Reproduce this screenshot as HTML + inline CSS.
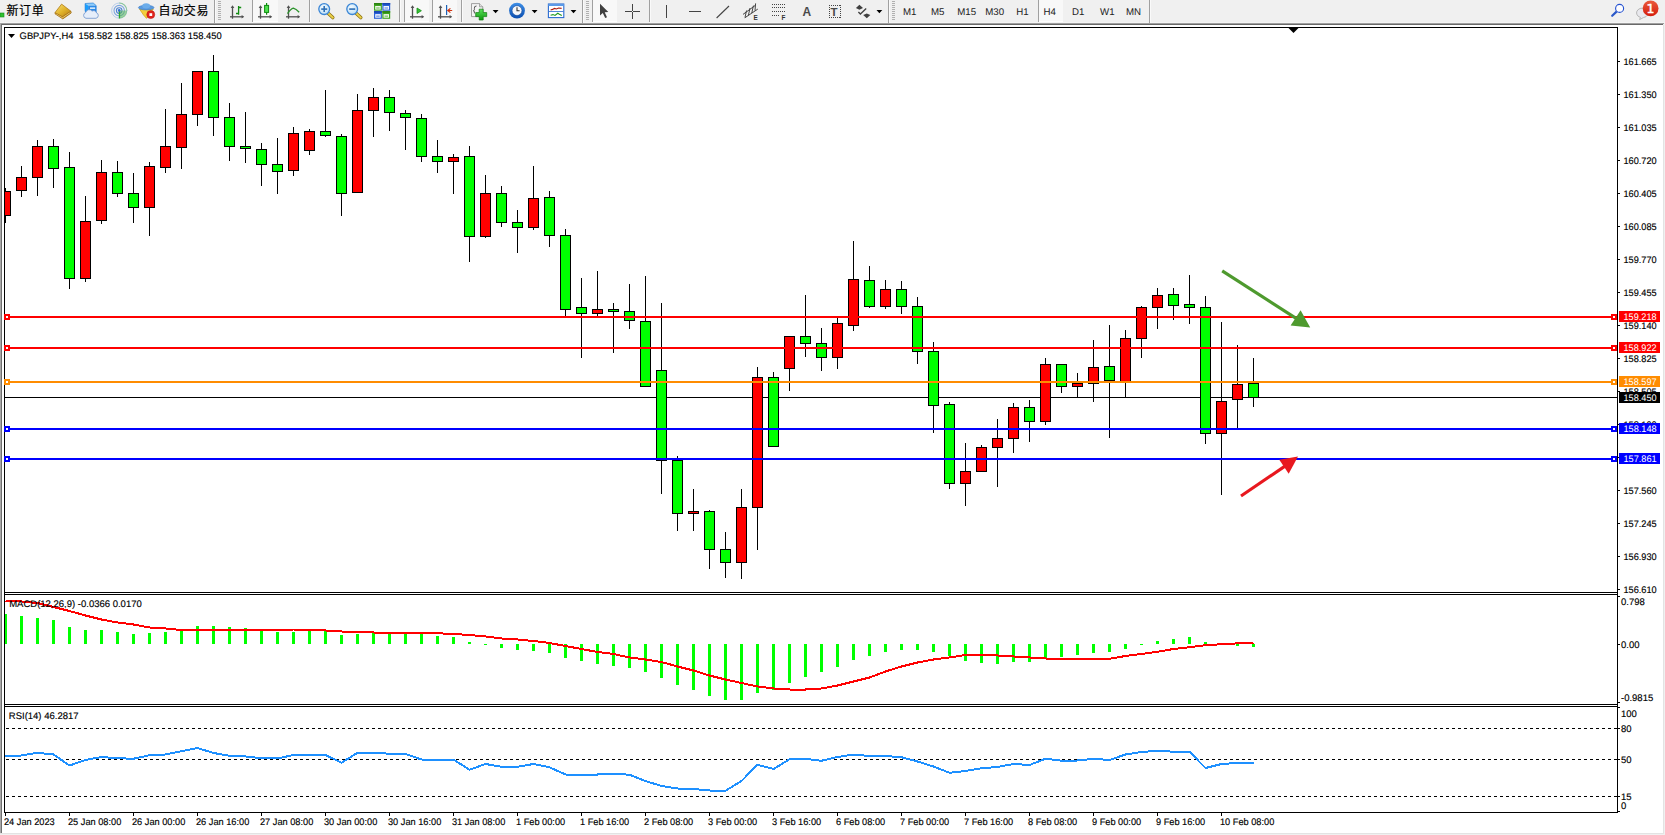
<!DOCTYPE html><html><head><meta charset="utf-8"><title>GBPJPY-,H4</title><style>
html,body{margin:0;padding:0;background:#f0f0f0;}body{width:1665px;height:835px;overflow:hidden;}
svg{display:block;font-family:"Liberation Sans","Noto Sans CJK SC",sans-serif;}
.t{font-size:9.5px;fill:#000;text-rendering:geometricPrecision;stroke:#000;stroke-width:0.15px;}.w{font-size:9.5px;fill:#fff;text-rendering:geometricPrecision;}.tf{font-size:9.7px;fill:#222;text-rendering:geometricPrecision;}.cn{font-size:12px;letter-spacing:0.6px;fill:#000;stroke:#000;stroke-width:0.2px;}
.ce{shape-rendering:crispEdges;}
</style></head><body>
<svg width="1665" height="835" viewBox="0 0 1665 835">
<rect x="0" y="0" width="1665" height="835" fill="#f0f0f0"/>
<g class="ce">
<rect x="0" y="23" width="1664" height="1" fill="#a0a0a0"/>
<rect x="0" y="24" width="1663" height="1" fill="#696969"/>
<rect x="2" y="25" width="1661" height="808" fill="#ffffff"/>
<rect x="0" y="23" width="1" height="811" fill="#a8a8a8"/>
<rect x="1" y="24" width="1" height="809" fill="#707070"/>
<rect x="1663" y="25" width="1" height="809" fill="#e3e3e3"/>
<rect x="0" y="833" width="1664" height="1" fill="#e3e3e3"/>
<rect x="4" y="27" width="1614" height="1" fill="#000"/>
<rect x="4" y="27" width="1" height="786" fill="#000"/>
<rect x="1617" y="27" width="1" height="786" fill="#000"/>
<rect x="4" y="592" width="1614" height="1" fill="#000"/>
<rect x="4" y="594" width="1614" height="1" fill="#000"/>
<rect x="4" y="704" width="1614" height="1" fill="#000"/>
<rect x="4" y="706" width="1614" height="1" fill="#000"/>
<rect x="4" y="812" width="1614" height="1" fill="#000"/>
<rect x="5" y="593" width="1612" height="1" fill="#fff"/>
<rect x="5" y="705" width="1612" height="1" fill="#fff"/>
<rect x="5" y="397" width="1612" height="1" fill="#000"/>
</g>
<g class="ce" id="candles">
<rect x="5" y="188" width="1" height="35" fill="#000"/>
<rect x="5" y="191" width="6" height="25" fill="#000"/>
<rect x="5" y="192" width="5" height="23" fill="#ff0000"/>
<rect x="21" y="166" width="1" height="31" fill="#000"/>
<rect x="16" y="177" width="11" height="14" fill="#000"/>
<rect x="17" y="178" width="9" height="12" fill="#ff0000"/>
<rect x="37" y="140" width="1" height="56" fill="#000"/>
<rect x="32" y="146" width="11" height="32" fill="#000"/>
<rect x="33" y="147" width="9" height="30" fill="#ff0000"/>
<rect x="53" y="139" width="1" height="49" fill="#000"/>
<rect x="48" y="146" width="11" height="23" fill="#000"/>
<rect x="49" y="147" width="9" height="21" fill="#00ff00"/>
<rect x="69" y="152" width="1" height="137" fill="#000"/>
<rect x="64" y="167" width="11" height="112" fill="#000"/>
<rect x="65" y="168" width="9" height="110" fill="#00ff00"/>
<rect x="85" y="196" width="1" height="86" fill="#000"/>
<rect x="80" y="221" width="11" height="58" fill="#000"/>
<rect x="81" y="222" width="9" height="56" fill="#ff0000"/>
<rect x="101" y="160" width="1" height="64" fill="#000"/>
<rect x="96" y="172" width="11" height="49" fill="#000"/>
<rect x="97" y="173" width="9" height="47" fill="#ff0000"/>
<rect x="117" y="161" width="1" height="36" fill="#000"/>
<rect x="112" y="172" width="11" height="22" fill="#000"/>
<rect x="113" y="173" width="9" height="20" fill="#00ff00"/>
<rect x="133" y="173" width="1" height="50" fill="#000"/>
<rect x="128" y="193" width="11" height="15" fill="#000"/>
<rect x="129" y="194" width="9" height="13" fill="#00ff00"/>
<rect x="149" y="162" width="1" height="74" fill="#000"/>
<rect x="144" y="166" width="11" height="42" fill="#000"/>
<rect x="145" y="167" width="9" height="40" fill="#ff0000"/>
<rect x="165" y="109" width="1" height="64" fill="#000"/>
<rect x="160" y="146" width="11" height="22" fill="#000"/>
<rect x="161" y="147" width="9" height="20" fill="#ff0000"/>
<rect x="181" y="83" width="1" height="86" fill="#000"/>
<rect x="176" y="114" width="11" height="34" fill="#000"/>
<rect x="177" y="115" width="9" height="32" fill="#ff0000"/>
<rect x="197" y="71" width="1" height="55" fill="#000"/>
<rect x="192" y="71" width="11" height="44" fill="#000"/>
<rect x="193" y="72" width="9" height="42" fill="#ff0000"/>
<rect x="213" y="55" width="1" height="81" fill="#000"/>
<rect x="208" y="71" width="11" height="47" fill="#000"/>
<rect x="209" y="72" width="9" height="45" fill="#00ff00"/>
<rect x="229" y="103" width="1" height="58" fill="#000"/>
<rect x="224" y="117" width="11" height="30" fill="#000"/>
<rect x="225" y="118" width="9" height="28" fill="#00ff00"/>
<rect x="245" y="112" width="1" height="51" fill="#000"/>
<rect x="240" y="146" width="11" height="3" fill="#000"/>
<rect x="241" y="147" width="9" height="1" fill="#00ff00"/>
<rect x="261" y="143" width="1" height="43" fill="#000"/>
<rect x="256" y="149" width="11" height="16" fill="#000"/>
<rect x="257" y="150" width="9" height="14" fill="#00ff00"/>
<rect x="277" y="138" width="1" height="56" fill="#000"/>
<rect x="272" y="164" width="11" height="8" fill="#000"/>
<rect x="273" y="165" width="9" height="6" fill="#00ff00"/>
<rect x="293" y="127" width="1" height="49" fill="#000"/>
<rect x="288" y="133" width="11" height="38" fill="#000"/>
<rect x="289" y="134" width="9" height="36" fill="#ff0000"/>
<rect x="309" y="129" width="1" height="26" fill="#000"/>
<rect x="304" y="131" width="11" height="20" fill="#000"/>
<rect x="305" y="132" width="9" height="18" fill="#ff0000"/>
<rect x="325" y="90" width="1" height="47" fill="#000"/>
<rect x="320" y="131" width="11" height="5" fill="#000"/>
<rect x="321" y="132" width="9" height="3" fill="#00ff00"/>
<rect x="341" y="134" width="1" height="82" fill="#000"/>
<rect x="336" y="136" width="11" height="58" fill="#000"/>
<rect x="337" y="137" width="9" height="56" fill="#00ff00"/>
<rect x="357" y="94" width="1" height="99" fill="#000"/>
<rect x="352" y="110" width="11" height="83" fill="#000"/>
<rect x="353" y="111" width="9" height="81" fill="#ff0000"/>
<rect x="373" y="88" width="1" height="49" fill="#000"/>
<rect x="368" y="97" width="11" height="14" fill="#000"/>
<rect x="369" y="98" width="9" height="12" fill="#ff0000"/>
<rect x="389" y="90" width="1" height="41" fill="#000"/>
<rect x="384" y="97" width="11" height="16" fill="#000"/>
<rect x="385" y="98" width="9" height="14" fill="#00ff00"/>
<rect x="405" y="110" width="1" height="40" fill="#000"/>
<rect x="400" y="113" width="11" height="5" fill="#000"/>
<rect x="401" y="114" width="9" height="3" fill="#00ff00"/>
<rect x="421" y="114" width="1" height="48" fill="#000"/>
<rect x="416" y="118" width="11" height="39" fill="#000"/>
<rect x="417" y="119" width="9" height="37" fill="#00ff00"/>
<rect x="437" y="140" width="1" height="33" fill="#000"/>
<rect x="432" y="156" width="11" height="6" fill="#000"/>
<rect x="433" y="157" width="9" height="4" fill="#00ff00"/>
<rect x="453" y="154" width="1" height="40" fill="#000"/>
<rect x="448" y="157" width="11" height="5" fill="#000"/>
<rect x="449" y="158" width="9" height="3" fill="#ff0000"/>
<rect x="469" y="146" width="1" height="116" fill="#000"/>
<rect x="464" y="156" width="11" height="81" fill="#000"/>
<rect x="465" y="157" width="9" height="79" fill="#00ff00"/>
<rect x="485" y="175" width="1" height="63" fill="#000"/>
<rect x="480" y="193" width="11" height="44" fill="#000"/>
<rect x="481" y="194" width="9" height="42" fill="#ff0000"/>
<rect x="501" y="186" width="1" height="41" fill="#000"/>
<rect x="496" y="193" width="11" height="30" fill="#000"/>
<rect x="497" y="194" width="9" height="28" fill="#00ff00"/>
<rect x="517" y="210" width="1" height="43" fill="#000"/>
<rect x="512" y="222" width="11" height="6" fill="#000"/>
<rect x="513" y="223" width="9" height="4" fill="#00ff00"/>
<rect x="533" y="166" width="1" height="64" fill="#000"/>
<rect x="528" y="198" width="11" height="30" fill="#000"/>
<rect x="529" y="199" width="9" height="28" fill="#ff0000"/>
<rect x="549" y="191" width="1" height="56" fill="#000"/>
<rect x="544" y="197" width="11" height="39" fill="#000"/>
<rect x="545" y="198" width="9" height="37" fill="#00ff00"/>
<rect x="565" y="229" width="1" height="87" fill="#000"/>
<rect x="560" y="235" width="11" height="75" fill="#000"/>
<rect x="561" y="236" width="9" height="73" fill="#00ff00"/>
<rect x="581" y="278" width="1" height="80" fill="#000"/>
<rect x="576" y="307" width="11" height="7" fill="#000"/>
<rect x="577" y="308" width="9" height="5" fill="#00ff00"/>
<rect x="597" y="271" width="1" height="45" fill="#000"/>
<rect x="592" y="309" width="11" height="5" fill="#000"/>
<rect x="593" y="310" width="9" height="3" fill="#ff0000"/>
<rect x="613" y="303" width="1" height="50" fill="#000"/>
<rect x="608" y="309" width="11" height="3" fill="#000"/>
<rect x="609" y="310" width="9" height="1" fill="#00ff00"/>
<rect x="629" y="284" width="1" height="45" fill="#000"/>
<rect x="624" y="311" width="11" height="10" fill="#000"/>
<rect x="625" y="312" width="9" height="8" fill="#00ff00"/>
<rect x="645" y="276" width="1" height="111" fill="#000"/>
<rect x="640" y="321" width="11" height="66" fill="#000"/>
<rect x="641" y="322" width="9" height="64" fill="#00ff00"/>
<rect x="661" y="303" width="1" height="191" fill="#000"/>
<rect x="656" y="370" width="11" height="91" fill="#000"/>
<rect x="657" y="371" width="9" height="89" fill="#00ff00"/>
<rect x="677" y="456" width="1" height="75" fill="#000"/>
<rect x="672" y="460" width="11" height="54" fill="#000"/>
<rect x="673" y="461" width="9" height="52" fill="#00ff00"/>
<rect x="693" y="489" width="1" height="42" fill="#000"/>
<rect x="688" y="511" width="11" height="3" fill="#000"/>
<rect x="689" y="512" width="9" height="1" fill="#ff0000"/>
<rect x="709" y="510" width="1" height="59" fill="#000"/>
<rect x="704" y="511" width="11" height="39" fill="#000"/>
<rect x="705" y="512" width="9" height="37" fill="#00ff00"/>
<rect x="725" y="532" width="1" height="46" fill="#000"/>
<rect x="720" y="549" width="11" height="14" fill="#000"/>
<rect x="721" y="550" width="9" height="12" fill="#00ff00"/>
<rect x="741" y="489" width="1" height="90" fill="#000"/>
<rect x="736" y="507" width="11" height="56" fill="#000"/>
<rect x="737" y="508" width="9" height="54" fill="#ff0000"/>
<rect x="757" y="367" width="1" height="183" fill="#000"/>
<rect x="752" y="377" width="11" height="131" fill="#000"/>
<rect x="753" y="378" width="9" height="129" fill="#ff0000"/>
<rect x="773" y="372" width="1" height="75" fill="#000"/>
<rect x="768" y="377" width="11" height="70" fill="#000"/>
<rect x="769" y="378" width="9" height="68" fill="#00ff00"/>
<rect x="789" y="336" width="1" height="55" fill="#000"/>
<rect x="784" y="336" width="11" height="33" fill="#000"/>
<rect x="785" y="337" width="9" height="31" fill="#ff0000"/>
<rect x="805" y="295" width="1" height="62" fill="#000"/>
<rect x="800" y="336" width="11" height="8" fill="#000"/>
<rect x="801" y="337" width="9" height="6" fill="#00ff00"/>
<rect x="821" y="328" width="1" height="43" fill="#000"/>
<rect x="816" y="343" width="11" height="15" fill="#000"/>
<rect x="817" y="344" width="9" height="13" fill="#00ff00"/>
<rect x="837" y="318" width="1" height="51" fill="#000"/>
<rect x="832" y="323" width="11" height="35" fill="#000"/>
<rect x="833" y="324" width="9" height="33" fill="#ff0000"/>
<rect x="853" y="241" width="1" height="90" fill="#000"/>
<rect x="848" y="279" width="11" height="47" fill="#000"/>
<rect x="849" y="280" width="9" height="45" fill="#ff0000"/>
<rect x="869" y="266" width="1" height="42" fill="#000"/>
<rect x="864" y="280" width="11" height="27" fill="#000"/>
<rect x="865" y="281" width="9" height="25" fill="#00ff00"/>
<rect x="885" y="280" width="1" height="29" fill="#000"/>
<rect x="880" y="289" width="11" height="18" fill="#000"/>
<rect x="881" y="290" width="9" height="16" fill="#ff0000"/>
<rect x="901" y="281" width="1" height="33" fill="#000"/>
<rect x="896" y="289" width="11" height="18" fill="#000"/>
<rect x="897" y="290" width="9" height="16" fill="#00ff00"/>
<rect x="917" y="297" width="1" height="67" fill="#000"/>
<rect x="912" y="306" width="11" height="46" fill="#000"/>
<rect x="913" y="307" width="9" height="44" fill="#00ff00"/>
<rect x="933" y="342" width="1" height="91" fill="#000"/>
<rect x="928" y="351" width="11" height="55" fill="#000"/>
<rect x="929" y="352" width="9" height="53" fill="#00ff00"/>
<rect x="949" y="402" width="1" height="87" fill="#000"/>
<rect x="944" y="404" width="11" height="80" fill="#000"/>
<rect x="945" y="405" width="9" height="78" fill="#00ff00"/>
<rect x="965" y="443" width="1" height="63" fill="#000"/>
<rect x="960" y="471" width="11" height="13" fill="#000"/>
<rect x="961" y="472" width="9" height="11" fill="#ff0000"/>
<rect x="981" y="445" width="1" height="27" fill="#000"/>
<rect x="976" y="447" width="11" height="25" fill="#000"/>
<rect x="977" y="448" width="9" height="23" fill="#ff0000"/>
<rect x="997" y="419" width="1" height="68" fill="#000"/>
<rect x="992" y="438" width="11" height="10" fill="#000"/>
<rect x="993" y="439" width="9" height="8" fill="#ff0000"/>
<rect x="1013" y="403" width="1" height="50" fill="#000"/>
<rect x="1008" y="407" width="11" height="32" fill="#000"/>
<rect x="1009" y="408" width="9" height="30" fill="#ff0000"/>
<rect x="1029" y="400" width="1" height="42" fill="#000"/>
<rect x="1024" y="407" width="11" height="15" fill="#000"/>
<rect x="1025" y="408" width="9" height="13" fill="#00ff00"/>
<rect x="1045" y="358" width="1" height="67" fill="#000"/>
<rect x="1040" y="364" width="11" height="58" fill="#000"/>
<rect x="1041" y="365" width="9" height="56" fill="#ff0000"/>
<rect x="1061" y="364" width="1" height="29" fill="#000"/>
<rect x="1056" y="364" width="11" height="23" fill="#000"/>
<rect x="1057" y="365" width="9" height="21" fill="#00ff00"/>
<rect x="1077" y="373" width="1" height="24" fill="#000"/>
<rect x="1072" y="383" width="11" height="4" fill="#000"/>
<rect x="1073" y="384" width="9" height="2" fill="#ff0000"/>
<rect x="1093" y="340" width="1" height="62" fill="#000"/>
<rect x="1088" y="367" width="11" height="17" fill="#000"/>
<rect x="1089" y="368" width="9" height="15" fill="#ff0000"/>
<rect x="1109" y="325" width="1" height="113" fill="#000"/>
<rect x="1104" y="366" width="11" height="15" fill="#000"/>
<rect x="1105" y="367" width="9" height="13" fill="#00ff00"/>
<rect x="1125" y="330" width="1" height="67" fill="#000"/>
<rect x="1120" y="338" width="11" height="44" fill="#000"/>
<rect x="1121" y="339" width="9" height="42" fill="#ff0000"/>
<rect x="1141" y="306" width="1" height="52" fill="#000"/>
<rect x="1136" y="307" width="11" height="32" fill="#000"/>
<rect x="1137" y="308" width="9" height="30" fill="#ff0000"/>
<rect x="1157" y="288" width="1" height="41" fill="#000"/>
<rect x="1152" y="295" width="11" height="13" fill="#000"/>
<rect x="1153" y="296" width="9" height="11" fill="#ff0000"/>
<rect x="1173" y="288" width="1" height="32" fill="#000"/>
<rect x="1168" y="294" width="11" height="12" fill="#000"/>
<rect x="1169" y="295" width="9" height="10" fill="#00ff00"/>
<rect x="1189" y="275" width="1" height="49" fill="#000"/>
<rect x="1184" y="304" width="11" height="4" fill="#000"/>
<rect x="1185" y="305" width="9" height="2" fill="#00ff00"/>
<rect x="1205" y="296" width="1" height="148" fill="#000"/>
<rect x="1200" y="307" width="11" height="127" fill="#000"/>
<rect x="1201" y="308" width="9" height="125" fill="#00ff00"/>
<rect x="1221" y="322" width="1" height="173" fill="#000"/>
<rect x="1216" y="401" width="11" height="33" fill="#000"/>
<rect x="1217" y="402" width="9" height="31" fill="#ff0000"/>
<rect x="1237" y="345" width="1" height="84" fill="#000"/>
<rect x="1232" y="384" width="11" height="16" fill="#000"/>
<rect x="1233" y="385" width="9" height="14" fill="#ff0000"/>
<rect x="1253" y="358" width="1" height="49" fill="#000"/>
<rect x="1248" y="383" width="11" height="15" fill="#000"/>
<rect x="1249" y="384" width="9" height="13" fill="#00ff00"/>
</g>
<g class="ce" id="hlines">
<rect x="4" y="316" width="1613" height="2" fill="#ff0000"/>
<rect x="4" y="314" width="6" height="6" fill="#ff0000"/>
<rect x="6" y="316" width="2" height="2" fill="#fff"/>
<rect x="1611" y="314" width="6" height="6" fill="#ff0000"/>
<rect x="1613" y="316" width="2" height="2" fill="#fff"/>
<rect x="4" y="347" width="1613" height="2" fill="#ff0000"/>
<rect x="4" y="345" width="6" height="6" fill="#ff0000"/>
<rect x="6" y="347" width="2" height="2" fill="#fff"/>
<rect x="1611" y="345" width="6" height="6" fill="#ff0000"/>
<rect x="1613" y="347" width="2" height="2" fill="#fff"/>
<rect x="4" y="381" width="1613" height="2" fill="#ff8c00"/>
<rect x="4" y="379" width="6" height="6" fill="#ff8c00"/>
<rect x="6" y="381" width="2" height="2" fill="#fff"/>
<rect x="1611" y="379" width="6" height="6" fill="#ff8c00"/>
<rect x="1613" y="381" width="2" height="2" fill="#fff"/>
<rect x="4" y="428" width="1613" height="2" fill="#0000ff"/>
<rect x="4" y="426" width="6" height="6" fill="#0000ff"/>
<rect x="6" y="428" width="2" height="2" fill="#fff"/>
<rect x="1611" y="426" width="6" height="6" fill="#0000ff"/>
<rect x="1613" y="428" width="2" height="2" fill="#fff"/>
<rect x="4" y="458" width="1613" height="2" fill="#0000ff"/>
<rect x="4" y="456" width="6" height="6" fill="#0000ff"/>
<rect x="6" y="458" width="2" height="2" fill="#fff"/>
<rect x="1611" y="456" width="6" height="6" fill="#0000ff"/>
<rect x="1613" y="458" width="2" height="2" fill="#fff"/>
</g>
<g id="arrows">
<line x1="1222.2" y1="270.9" x2="1296.5" y2="318.6" stroke="#4e9a2e" stroke-width="3.1"/>
<polygon points="1310.2,327.5 1290.6,325.5 1300.6,310.3" fill="#4e9a2e"/>
<line x1="1241" y1="496" x2="1285" y2="466.1" stroke="#e8181f" stroke-width="3.1"/>
<polygon points="1298,456.4 1279.3,459.7 1288.7,473.8" fill="#e8181f"/>
</g>
<g class="ce">
<rect x="1618" y="61" width="2" height="1" fill="#000"/>
<rect x="1618" y="94" width="2" height="1" fill="#000"/>
<rect x="1618" y="127" width="2" height="1" fill="#000"/>
<rect x="1618" y="160" width="2" height="1" fill="#000"/>
<rect x="1618" y="193" width="2" height="1" fill="#000"/>
<rect x="1618" y="226" width="2" height="1" fill="#000"/>
<rect x="1618" y="259" width="2" height="1" fill="#000"/>
<rect x="1618" y="292" width="2" height="1" fill="#000"/>
<rect x="1618" y="325" width="2" height="1" fill="#000"/>
<rect x="1618" y="358" width="2" height="1" fill="#000"/>
<rect x="1618" y="391" width="2" height="1" fill="#000"/>
<rect x="1618" y="424" width="2" height="1" fill="#000"/>
<rect x="1618" y="457" width="2" height="1" fill="#000"/>
<rect x="1618" y="490" width="2" height="1" fill="#000"/>
<rect x="1618" y="523" width="2" height="1" fill="#000"/>
<rect x="1618" y="556" width="2" height="1" fill="#000"/>
<rect x="1618" y="589" width="2" height="1" fill="#000"/>
<rect x="1618" y="596" width="2" height="1" fill="#000"/>
<rect x="1618" y="644" width="2" height="1" fill="#000"/>
<rect x="1618" y="702" width="2" height="1" fill="#000"/>
<rect x="1618" y="707" width="2" height="1" fill="#000"/>
<rect x="1618" y="728" width="2" height="1" fill="#000"/>
<rect x="1618" y="759" width="2" height="1" fill="#000"/>
<rect x="1618" y="796" width="2" height="1" fill="#000"/>
<rect x="1618" y="811" width="2" height="1" fill="#000"/>
</g>
<text class="t" transform="translate(1623.5 65) scale(0.965 1)">161.665</text>
<text class="t" transform="translate(1623.5 98) scale(0.965 1)">161.350</text>
<text class="t" transform="translate(1623.5 131) scale(0.965 1)">161.035</text>
<text class="t" transform="translate(1623.5 164) scale(0.965 1)">160.720</text>
<text class="t" transform="translate(1623.5 197) scale(0.965 1)">160.405</text>
<text class="t" transform="translate(1623.5 230) scale(0.965 1)">160.085</text>
<text class="t" transform="translate(1623.5 263) scale(0.965 1)">159.770</text>
<text class="t" transform="translate(1623.5 296) scale(0.965 1)">159.455</text>
<text class="t" transform="translate(1623.5 329) scale(0.965 1)">159.140</text>
<text class="t" transform="translate(1623.5 362) scale(0.965 1)">158.825</text>
<text class="t" transform="translate(1623.5 395) scale(0.965 1)">158.505</text>
<text class="t" transform="translate(1623.5 428) scale(0.965 1)">158.190</text>
<text class="t" transform="translate(1623.5 461) scale(0.965 1)">157.875</text>
<text class="t" transform="translate(1623.5 494) scale(0.965 1)">157.560</text>
<text class="t" transform="translate(1623.5 527) scale(0.965 1)">157.245</text>
<text class="t" transform="translate(1623.5 560) scale(0.965 1)">156.930</text>
<text class="t" transform="translate(1623.5 593) scale(0.965 1)">156.610</text>
<g class="ce">
<rect x="1619" y="311" width="41" height="11" fill="#ff0000"/>
<rect x="1619" y="342" width="41" height="11" fill="#ff0000"/>
<rect x="1619" y="376" width="41" height="11" fill="#ff8c00"/>
<rect x="1619" y="423" width="41" height="11" fill="#0000ff"/>
<rect x="1619" y="453" width="41" height="11" fill="#0000ff"/>
<rect x="1619" y="392" width="41" height="11" fill="#000000"/>
</g>
<text class="w" transform="translate(1623.5 320) scale(0.965 1)">159.218</text>
<text class="w" transform="translate(1623.5 351) scale(0.965 1)">158.922</text>
<text class="w" transform="translate(1623.5 385) scale(0.965 1)">158.597</text>
<text class="w" transform="translate(1623.5 432) scale(0.965 1)">158.148</text>
<text class="w" transform="translate(1623.5 462) scale(0.965 1)">157.861</text>
<text class="w" transform="translate(1623.5 401) scale(0.965 1)">158.450</text>
<text class="t" transform="translate(1621 605) scale(1 1)">0.798</text>
<text class="t" transform="translate(1621 648) scale(1 1)">0.00</text>
<text class="t" transform="translate(1621 700.5) scale(1 1)">-0.9815</text>
<text class="t" transform="translate(1621 716.7) scale(1 1)">100</text>
<text class="t" transform="translate(1621 732) scale(1 1)">80</text>
<text class="t" transform="translate(1621 763) scale(1 1)">50</text>
<text class="t" transform="translate(1621 800) scale(1 1)">15</text>
<text class="t" transform="translate(1621 808.7) scale(1 1)">0</text>
<text class="t" transform="translate(19.6 38.7) scale(0.985 1)">GBPJPY-,H4&#160; 158.582 158.825 158.363 158.450</text>
<g class="ce" id="macd">
<rect x="5" y="614" width="2" height="30" fill="#00ff00"/>
<rect x="20" y="616" width="3" height="28" fill="#00ff00"/>
<rect x="36" y="618" width="3" height="26" fill="#00ff00"/>
<rect x="52" y="620" width="3" height="24" fill="#00ff00"/>
<rect x="68" y="627" width="3" height="17" fill="#00ff00"/>
<rect x="84" y="630" width="3" height="14" fill="#00ff00"/>
<rect x="100" y="630" width="3" height="14" fill="#00ff00"/>
<rect x="116" y="632" width="3" height="12" fill="#00ff00"/>
<rect x="132" y="634" width="3" height="10" fill="#00ff00"/>
<rect x="148" y="633" width="3" height="11" fill="#00ff00"/>
<rect x="164" y="632" width="3" height="12" fill="#00ff00"/>
<rect x="180" y="631" width="3" height="13" fill="#00ff00"/>
<rect x="196" y="626" width="3" height="18" fill="#00ff00"/>
<rect x="212" y="626" width="3" height="18" fill="#00ff00"/>
<rect x="228" y="627" width="3" height="17" fill="#00ff00"/>
<rect x="244" y="628" width="3" height="16" fill="#00ff00"/>
<rect x="260" y="630" width="3" height="14" fill="#00ff00"/>
<rect x="276" y="632" width="3" height="12" fill="#00ff00"/>
<rect x="292" y="632" width="3" height="12" fill="#00ff00"/>
<rect x="308" y="631" width="3" height="13" fill="#00ff00"/>
<rect x="324" y="631" width="3" height="13" fill="#00ff00"/>
<rect x="340" y="635" width="3" height="9" fill="#00ff00"/>
<rect x="356" y="634" width="3" height="10" fill="#00ff00"/>
<rect x="372" y="632" width="3" height="12" fill="#00ff00"/>
<rect x="388" y="634" width="3" height="10" fill="#00ff00"/>
<rect x="404" y="634" width="3" height="10" fill="#00ff00"/>
<rect x="420" y="634" width="3" height="10" fill="#00ff00"/>
<rect x="436" y="636" width="3" height="8" fill="#00ff00"/>
<rect x="452" y="637" width="3" height="7" fill="#00ff00"/>
<rect x="468" y="642" width="3" height="2" fill="#00ff00"/>
<rect x="484" y="644" width="3" height="1" fill="#00ff00"/>
<rect x="500" y="644" width="3" height="4" fill="#00ff00"/>
<rect x="516" y="644" width="3" height="6" fill="#00ff00"/>
<rect x="532" y="644" width="3" height="7" fill="#00ff00"/>
<rect x="548" y="644" width="3" height="9" fill="#00ff00"/>
<rect x="564" y="644" width="3" height="14" fill="#00ff00"/>
<rect x="580" y="644" width="3" height="17" fill="#00ff00"/>
<rect x="596" y="644" width="3" height="20" fill="#00ff00"/>
<rect x="612" y="644" width="3" height="22" fill="#00ff00"/>
<rect x="628" y="644" width="3" height="24" fill="#00ff00"/>
<rect x="644" y="644" width="3" height="28" fill="#00ff00"/>
<rect x="660" y="644" width="3" height="34" fill="#00ff00"/>
<rect x="676" y="644" width="3" height="41" fill="#00ff00"/>
<rect x="692" y="644" width="3" height="46" fill="#00ff00"/>
<rect x="708" y="644" width="3" height="52" fill="#00ff00"/>
<rect x="724" y="644" width="3" height="56" fill="#00ff00"/>
<rect x="740" y="644" width="3" height="56" fill="#00ff00"/>
<rect x="756" y="644" width="3" height="49" fill="#00ff00"/>
<rect x="772" y="644" width="3" height="46" fill="#00ff00"/>
<rect x="788" y="644" width="3" height="39" fill="#00ff00"/>
<rect x="804" y="644" width="3" height="33" fill="#00ff00"/>
<rect x="820" y="644" width="3" height="28" fill="#00ff00"/>
<rect x="836" y="644" width="3" height="23" fill="#00ff00"/>
<rect x="852" y="644" width="3" height="16" fill="#00ff00"/>
<rect x="868" y="644" width="3" height="12" fill="#00ff00"/>
<rect x="884" y="644" width="3" height="8" fill="#00ff00"/>
<rect x="900" y="644" width="3" height="6" fill="#00ff00"/>
<rect x="916" y="644" width="3" height="6" fill="#00ff00"/>
<rect x="932" y="644" width="3" height="8" fill="#00ff00"/>
<rect x="948" y="644" width="3" height="12" fill="#00ff00"/>
<rect x="964" y="644" width="3" height="17" fill="#00ff00"/>
<rect x="980" y="644" width="3" height="19" fill="#00ff00"/>
<rect x="996" y="644" width="3" height="20" fill="#00ff00"/>
<rect x="1012" y="644" width="3" height="18" fill="#00ff00"/>
<rect x="1028" y="644" width="3" height="18" fill="#00ff00"/>
<rect x="1044" y="644" width="3" height="14" fill="#00ff00"/>
<rect x="1060" y="644" width="3" height="13" fill="#00ff00"/>
<rect x="1076" y="644" width="3" height="11" fill="#00ff00"/>
<rect x="1092" y="644" width="3" height="9" fill="#00ff00"/>
<rect x="1108" y="644" width="3" height="8" fill="#00ff00"/>
<rect x="1124" y="644" width="3" height="5" fill="#00ff00"/>
<rect x="1140" y="644" width="3" height="1" fill="#00ff00"/>
<rect x="1156" y="641" width="3" height="3" fill="#00ff00"/>
<rect x="1172" y="639" width="3" height="5" fill="#00ff00"/>
<rect x="1188" y="637" width="3" height="7" fill="#00ff00"/>
<rect x="1204" y="642" width="3" height="2" fill="#00ff00"/>
<rect x="1220" y="644" width="3" height="1" fill="#00ff00"/>
<rect x="1236" y="644" width="3" height="2" fill="#00ff00"/>
<rect x="1252" y="644" width="3" height="3" fill="#00ff00"/>
</g>
<polyline points="5.5,601 21.5,601.5 37.5,603 53.5,607 69.5,611 85.5,615.5 101.5,619.5 117.5,622.5 133.5,624.5 149.5,627.5 165.5,628.5 181.5,630 197.5,630 213.5,630 229.5,630 245.5,630 261.5,630 277.5,630 293.5,629.5 309.5,629.5 325.5,630.5 341.5,631.5 357.5,631.75 373.5,632.5 389.5,632.75 405.5,633 421.5,633 437.5,633.25 453.5,634 469.5,635 485.5,636.5 501.5,638.5 517.5,639.5 533.5,641 549.5,643 565.5,646 581.5,649 597.5,652 613.5,654 629.5,657.5 645.5,659.5 661.5,662 677.5,666.5 693.5,670.5 709.5,675.5 725.5,679.5 741.5,683 757.5,686.5 773.5,688.5 789.5,689.5 805.5,689.5 821.5,688.5 837.5,685.5 853.5,681.5 869.5,677.5 885.5,671.5 901.5,666.5 917.5,662.5 933.5,659.5 949.5,657.5 965.5,655 981.5,655 997.5,655.5 1013.5,656.5 1029.5,657.5 1045.5,658.5 1061.5,658.5 1077.5,658.5 1093.5,658.5 1109.5,658.75 1125.5,656 1141.5,654 1157.5,651.75 1173.5,649 1189.5,647.25 1205.5,645.25 1221.5,644.25 1237.5,643.4 1253.5,642.9" fill="none" stroke="#ff0000" stroke-width="2" stroke-linejoin="round" shape-rendering="crispEdges"/>
<g class="ce">
<line x1="6" y1="728.5" x2="1617" y2="728.5" stroke="#000" stroke-width="1" stroke-dasharray="3 3"/>
<line x1="6" y1="759.5" x2="1617" y2="759.5" stroke="#000" stroke-width="1" stroke-dasharray="3 3"/>
<line x1="6" y1="796.5" x2="1617" y2="796.5" stroke="#000" stroke-width="1" stroke-dasharray="3 3"/>
</g>
<polyline points="5.5,756 21.5,755.5 37.5,752.75 53.5,754.5 69.5,765.5 85.5,760 101.5,757 117.5,758.25 133.5,758.75 149.5,755.25 165.5,754.5 181.5,751.25 197.5,748 213.5,753 229.5,755.75 245.5,756.5 261.5,758.25 277.5,758.5 293.5,755 309.5,755 325.5,755 341.5,762.75 357.5,752.75 373.5,752.75 389.5,753.75 405.5,754 421.5,759.5 437.5,759.5 453.5,759.5 469.5,769.75 485.5,764 501.5,766.75 517.5,766.75 533.5,764 549.5,767.25 565.5,774.5 581.5,774.5 597.5,774.5 613.5,773.75 629.5,774.75 645.5,781 661.5,786 677.5,788.5 693.5,789 709.5,790.5 725.5,790.75 741.5,781 757.5,764.75 773.5,769 789.5,759.25 805.5,758.9 821.5,760.75 837.5,757 853.5,754.5 869.5,756 885.5,756 901.5,757.25 917.5,761.5 933.5,766.5 949.5,772.75 965.5,771 981.5,768.25 997.5,767 1013.5,764 1029.5,765 1045.5,758.75 1061.5,760.75 1077.5,760.5 1093.5,758.75 1109.5,760 1125.5,754.5 1141.5,752 1157.5,750.75 1173.5,751.75 1189.5,751.75 1205.5,768 1221.5,764 1237.5,763 1253.5,763" fill="none" stroke="#1e90ff" stroke-width="2" stroke-linejoin="round" shape-rendering="crispEdges"/>
<text class="t" transform="translate(9.2 606.8) scale(1 1)">MACD(12,26,9) -0.0366 0.0170</text>
<text class="t" transform="translate(8.8 718.7) scale(1 1)">RSI(14) 46.2817</text>
<polygon points="8,34 15,34 11.5,38" fill="#000"/>
<polygon points="1288.5,28 1298.5,28 1293.5,33" fill="#000"/>
<g class="ce">
<rect x="5" y="813" width="1" height="3" fill="#000"/>
<rect x="69" y="813" width="1" height="3" fill="#000"/>
<rect x="133" y="813" width="1" height="3" fill="#000"/>
<rect x="197" y="813" width="1" height="3" fill="#000"/>
<rect x="261" y="813" width="1" height="3" fill="#000"/>
<rect x="325" y="813" width="1" height="3" fill="#000"/>
<rect x="389" y="813" width="1" height="3" fill="#000"/>
<rect x="453" y="813" width="1" height="3" fill="#000"/>
<rect x="517" y="813" width="1" height="3" fill="#000"/>
<rect x="581" y="813" width="1" height="3" fill="#000"/>
<rect x="645" y="813" width="1" height="3" fill="#000"/>
<rect x="709" y="813" width="1" height="3" fill="#000"/>
<rect x="773" y="813" width="1" height="3" fill="#000"/>
<rect x="837" y="813" width="1" height="3" fill="#000"/>
<rect x="901" y="813" width="1" height="3" fill="#000"/>
<rect x="965" y="813" width="1" height="3" fill="#000"/>
<rect x="1029" y="813" width="1" height="3" fill="#000"/>
<rect x="1093" y="813" width="1" height="3" fill="#000"/>
<rect x="1157" y="813" width="1" height="3" fill="#000"/>
<rect x="1221" y="813" width="1" height="3" fill="#000"/>
</g>
<text class="t" transform="translate(4 825) scale(0.97 1)">24 Jan 2023</text>
<text class="t" transform="translate(68 825) scale(0.97 1)">25 Jan 08:00</text>
<text class="t" transform="translate(132 825) scale(0.97 1)">26 Jan 00:00</text>
<text class="t" transform="translate(196 825) scale(0.97 1)">26 Jan 16:00</text>
<text class="t" transform="translate(260 825) scale(0.97 1)">27 Jan 08:00</text>
<text class="t" transform="translate(324 825) scale(0.97 1)">30 Jan 00:00</text>
<text class="t" transform="translate(388 825) scale(0.97 1)">30 Jan 16:00</text>
<text class="t" transform="translate(452 825) scale(0.97 1)">31 Jan 08:00</text>
<text class="t" transform="translate(516 825) scale(0.97 1)">1 Feb 00:00</text>
<text class="t" transform="translate(580 825) scale(0.97 1)">1 Feb 16:00</text>
<text class="t" transform="translate(644 825) scale(0.97 1)">2 Feb 08:00</text>
<text class="t" transform="translate(708 825) scale(0.97 1)">3 Feb 00:00</text>
<text class="t" transform="translate(772 825) scale(0.97 1)">3 Feb 16:00</text>
<text class="t" transform="translate(836 825) scale(0.97 1)">6 Feb 08:00</text>
<text class="t" transform="translate(900 825) scale(0.97 1)">7 Feb 00:00</text>
<text class="t" transform="translate(964 825) scale(0.97 1)">7 Feb 16:00</text>
<text class="t" transform="translate(1028 825) scale(0.97 1)">8 Feb 08:00</text>
<text class="t" transform="translate(1092 825) scale(0.97 1)">9 Feb 00:00</text>
<text class="t" transform="translate(1156 825) scale(0.97 1)">9 Feb 16:00</text>
<text class="t" transform="translate(1220 825) scale(0.97 1)">10 Feb 08:00</text>
<defs>
<linearGradient id="gold" x1="0" y1="0" x2="1" y2="1"><stop offset="0" stop-color="#f7e07a"/><stop offset="0.5" stop-color="#e2b52c"/><stop offset="1" stop-color="#b87d12"/></linearGradient>
<linearGradient id="badge" x1="0" y1="0" x2="0" y2="1"><stop offset="0" stop-color="#ea5a3c"/><stop offset="1" stop-color="#d41c0c"/></linearGradient>
<radialGradient id="lens" cx="0.4" cy="0.35" r="0.7"><stop offset="0" stop-color="#f4fbff"/><stop offset="1" stop-color="#b9dcf4"/></radialGradient>
<linearGradient id="clk" x1="0" y1="0" x2="0" y2="1"><stop offset="0" stop-color="#3d8fe8"/><stop offset="1" stop-color="#0c4fb0"/></linearGradient>
<linearGradient id="plus" x1="0" y1="0" x2="0" y2="1"><stop offset="0" stop-color="#5be05b"/><stop offset="1" stop-color="#0c9a0c"/></linearGradient>
</defs>
<g id="toolbar">
<rect x="0" y="22" width="1665" height="1" fill="#f5f5f5"/>
<g class="ce">
<rect x="253" y="0" width="25" height="21" fill="#f8f8f8"/>
<rect x="252" y="0" width="1" height="22" fill="#a0a0a0"/>
<rect x="253" y="21" width="25" height="1" fill="#ffffff"/>
<rect x="405" y="0" width="24" height="21" fill="#f8f8f8"/>
<rect x="404" y="0" width="1" height="22" fill="#a0a0a0"/>
<rect x="405" y="21" width="24" height="1" fill="#ffffff"/>
<rect x="433" y="0" width="24" height="21" fill="#f8f8f8"/>
<rect x="432" y="0" width="1" height="22" fill="#a0a0a0"/>
<rect x="433" y="21" width="24" height="1" fill="#ffffff"/>
<rect x="593" y="0" width="24" height="21" fill="#f8f8f8"/>
<rect x="592" y="0" width="1" height="22" fill="#a0a0a0"/>
<rect x="593" y="21" width="24" height="1" fill="#ffffff"/>
<rect x="1039" y="0" width="24" height="21" fill="#f8f8f8"/>
<rect x="1038" y="0" width="1" height="22" fill="#a0a0a0"/>
<rect x="1039" y="21" width="24" height="1" fill="#ffffff"/>
<rect x="214" y="0" width="1" height="23" fill="#a0a0a0"/>
<rect x="215" y="0" width="1" height="23" fill="#fafafa"/>
<rect x="309" y="0" width="1" height="22" fill="#a0a0a0"/>
<rect x="310" y="0" width="1" height="22" fill="#fafafa"/>
<rect x="399" y="0" width="1" height="22" fill="#a0a0a0"/>
<rect x="400" y="0" width="1" height="22" fill="#fafafa"/>
<rect x="461" y="0" width="1" height="22" fill="#a0a0a0"/>
<rect x="462" y="0" width="1" height="22" fill="#fafafa"/>
<rect x="582" y="0" width="1" height="23" fill="#a0a0a0"/>
<rect x="583" y="0" width="1" height="23" fill="#fafafa"/>
<rect x="649" y="0" width="1" height="22" fill="#a0a0a0"/>
<rect x="650" y="0" width="1" height="22" fill="#fafafa"/>
<rect x="888" y="0" width="1" height="23" fill="#a0a0a0"/>
<rect x="889" y="0" width="1" height="23" fill="#fafafa"/>
<rect x="1149" y="0" width="1" height="23" fill="#a0a0a0"/>
<rect x="1150" y="0" width="1" height="23" fill="#fafafa"/>
<rect x="218" y="1" width="3" height="1" fill="#b0b0b0"/>
<rect x="218" y="3" width="3" height="1" fill="#b0b0b0"/>
<rect x="218" y="5" width="3" height="1" fill="#b0b0b0"/>
<rect x="218" y="7" width="3" height="1" fill="#b0b0b0"/>
<rect x="218" y="9" width="3" height="1" fill="#b0b0b0"/>
<rect x="218" y="11" width="3" height="1" fill="#b0b0b0"/>
<rect x="218" y="13" width="3" height="1" fill="#b0b0b0"/>
<rect x="218" y="15" width="3" height="1" fill="#b0b0b0"/>
<rect x="218" y="17" width="3" height="1" fill="#b0b0b0"/>
<rect x="218" y="19" width="3" height="1" fill="#b0b0b0"/>
<rect x="586" y="1" width="3" height="1" fill="#b0b0b0"/>
<rect x="586" y="3" width="3" height="1" fill="#b0b0b0"/>
<rect x="586" y="5" width="3" height="1" fill="#b0b0b0"/>
<rect x="586" y="7" width="3" height="1" fill="#b0b0b0"/>
<rect x="586" y="9" width="3" height="1" fill="#b0b0b0"/>
<rect x="586" y="11" width="3" height="1" fill="#b0b0b0"/>
<rect x="586" y="13" width="3" height="1" fill="#b0b0b0"/>
<rect x="586" y="15" width="3" height="1" fill="#b0b0b0"/>
<rect x="586" y="17" width="3" height="1" fill="#b0b0b0"/>
<rect x="586" y="19" width="3" height="1" fill="#b0b0b0"/>
<rect x="892" y="1" width="3" height="1" fill="#b0b0b0"/>
<rect x="892" y="3" width="3" height="1" fill="#b0b0b0"/>
<rect x="892" y="5" width="3" height="1" fill="#b0b0b0"/>
<rect x="892" y="7" width="3" height="1" fill="#b0b0b0"/>
<rect x="892" y="9" width="3" height="1" fill="#b0b0b0"/>
<rect x="892" y="11" width="3" height="1" fill="#b0b0b0"/>
<rect x="892" y="13" width="3" height="1" fill="#b0b0b0"/>
<rect x="892" y="15" width="3" height="1" fill="#b0b0b0"/>
<rect x="892" y="17" width="3" height="1" fill="#b0b0b0"/>
<rect x="892" y="19" width="3" height="1" fill="#b0b0b0"/>
</g>
<rect x="0" y="13" width="4" height="4" fill="#2fc02f" stroke="#158a15" stroke-width="0.6"/>
<text class="cn" x="6.5" y="15.1">新订单</text>
<text class="cn" x="158.6" y="15.1">自动交易</text>
<polygon points="70.9,11.2 71.2,13 62.8,18.9 55,13.8 55,12.6 62.3,16.6" fill="#c48a14" stroke="#9a670c" stroke-width="0.7" stroke-linejoin="round"/>
<path d="M55.6,13.3 L62.6,17.7 L70.6,12.2" fill="none" stroke="#f6e3a0" stroke-width="0.7"/>
<polygon points="61.6,4.1 70.9,11.2 62.3,16.6 55,12.6" fill="url(#gold)" stroke="#a9730f" stroke-width="0.7" stroke-linejoin="round"/>
<polygon points="85.1,3.5 93.2,3 96.2,5.6 88.1,5.6" fill="#8ccdfb"/>
<polygon points="85.1,3.5 88.1,5.6 88.1,13 85.1,11.4" fill="#18a0ff"/>
<rect x="88.1" y="5.6" width="8.1" height="7.6" fill="#2b8be8"/>
<rect x="90" y="7.4" width="5.2" height="1.5" fill="#e4f1fd"/>
<path d="M85.1,3.5 L93.2,3 L96.2,5.6 V13 H88.1 L85.1,11.4 z" fill="none" stroke="#1b74d4" stroke-width="0.6"/>
<path d="M86,18.3 a3,3 0 0 1 -0.3,-5.8 a3.6,3.6 0 0 1 6.4,-1.4 a2.8,2.8 0 0 1 4.2,1.6 a2.9,2.9 0 0 1 -0.3,5.6 z" fill="#e6eefa" stroke="#6f93cc" stroke-width="0.8"/>
<g fill="none" stroke-linecap="round">
<circle cx="119.2" cy="10.6" r="7.6" stroke="#b8cdea" stroke-width="1"/>
<circle cx="119.2" cy="10.6" r="5.2" stroke="#7ea6de" stroke-width="1.1"/>
<circle cx="119.2" cy="10.6" r="2.8" stroke="#4d83d2" stroke-width="1.1"/>
</g>
<path d="M119.4,10.6 L119.4,18.6 A8,8 0 0 0 127.2,10.6 z" fill="#58b858" opacity="0.55"/>
<path d="M119.2,3 A7.6,7.6 0 0 1 126.8,10.6" fill="none" stroke="#8cc79a" stroke-width="1.1"/>
<rect x="118.8" y="10" width="1.3" height="8.4" fill="#2fa52f"/>
<circle cx="119.2" cy="10.4" r="1.3" fill="#2f6fd0"/>
<polygon points="139.5,9 153.3,9 149,15 146.5,18.4 143.5,15" fill="#f3cf3a" stroke="#cfa114" stroke-width="0.7"/>
<ellipse cx="146.2" cy="7.6" rx="7.8" ry="2.3" fill="#5a9be0" stroke="#3b78c4" stroke-width="0.6"/>
<ellipse cx="146.2" cy="5.8" rx="4" ry="2.6" fill="#6cadea"/>
<circle cx="150.75" cy="14.6" r="4" fill="#e0241c" stroke="#b81410" stroke-width="0.5"/>
<rect x="149.4" y="13.2" width="2.8" height="2.8" fill="#fff"/>
<g stroke="#505050" stroke-width="1.3" fill="#505050"><line x1="232.5" y1="6.4" x2="232.5" y2="18.7"/><line x1="230" y1="16.8" x2="243.2" y2="16.8"/><polygon points="232.5,5.2 230.7,8.0 234.3,8.0" stroke="none"/><polygon points="244.2,16.8 241.6,15.0 241.6,18.6" stroke="none"/></g>
<path d="M238.6,6 V14.8 M238.6,7.5 H241.2 M238.6,13.5 H236" stroke="#128c12" stroke-width="1.3" fill="none"/>
<g stroke="#505050" stroke-width="1.3" fill="#505050"><line x1="260.5" y1="6.4" x2="260.5" y2="18.7"/><line x1="258" y1="16.8" x2="271.2" y2="16.8"/><polygon points="260.5,5.2 258.7,8.0 262.3,8.0" stroke="none"/><polygon points="272.2,16.8 269.59999999999997,15.0 269.59999999999997,18.6" stroke="none"/></g>
<line x1="266.6" y1="3.1" x2="266.6" y2="14.7" stroke="#0f8c0f" stroke-width="1.2"/>
<rect x="264.6" y="5.4" width="4" height="7" fill="#4fe04f" stroke="#0f8c0f" stroke-width="1"/>
<g stroke="#505050" stroke-width="1.3" fill="#505050"><line x1="288.5" y1="6.4" x2="288.5" y2="18.7"/><line x1="286" y1="16.8" x2="299.2" y2="16.8"/><polygon points="288.5,5.2 286.7,8.0 290.3,8.0" stroke="none"/><polygon points="300.2,16.8 297.59999999999997,15.0 297.59999999999997,18.6" stroke="none"/></g>
<path d="M287.5,13.6 Q291,8.6 293.3,8.2 Q296,9 299.2,12.2" stroke="#2a922a" stroke-width="1.3" fill="none"/>
<line x1="328.4" y1="13.4" x2="332.8" y2="17.6" stroke="#8e7414" stroke-width="3.4" stroke-linecap="round"/>
<line x1="328.4" y1="13.4" x2="332.8" y2="17.6" stroke="#ecd24a" stroke-width="2" stroke-linecap="round"/>
<circle cx="324.2" cy="9.1" r="5.4" fill="url(#lens)" stroke="#3b86d6" stroke-width="1.3"/>
<line x1="321.2" y1="9.1" x2="327.2" y2="9.1" stroke="#2d6fb6" stroke-width="1.6"/>
<line x1="324.2" y1="6.1" x2="324.2" y2="12.1" stroke="#2d6fb6" stroke-width="1.6"/>
<line x1="356.4" y1="13.4" x2="360.8" y2="17.6" stroke="#8e7414" stroke-width="3.4" stroke-linecap="round"/>
<line x1="356.4" y1="13.4" x2="360.8" y2="17.6" stroke="#ecd24a" stroke-width="2" stroke-linecap="round"/>
<circle cx="352.2" cy="9.1" r="5.4" fill="url(#lens)" stroke="#3b86d6" stroke-width="1.3"/>
<line x1="349.2" y1="9.1" x2="355.2" y2="9.1" stroke="#2d6fb6" stroke-width="1.6"/>
<rect x="374" y="3" width="7.9" height="7.7" fill="#3fa51f"/>
<rect x="374" y="3" width="7.9" height="1.6" fill="#2c8212"/>
<rect x="375.2" y="6" width="5.5" height="3.6" fill="#ffffff" opacity="0.92"/>
<rect x="376.2" y="7.6" width="3.5" height="0.8" fill="#3fa51f"/>
<rect x="382.3" y="3" width="7.9" height="7.7" fill="#2a62d8"/>
<rect x="382.3" y="3" width="7.9" height="1.6" fill="#1744b0"/>
<rect x="383.5" y="6" width="5.5" height="3.6" fill="#ffffff" opacity="0.92"/>
<rect x="384.5" y="7.6" width="3.5" height="0.8" fill="#2a62d8"/>
<rect x="374" y="11.1" width="7.9" height="7.7" fill="#2a62d8"/>
<rect x="374" y="11.1" width="7.9" height="1.6" fill="#1744b0"/>
<rect x="375.2" y="14.1" width="5.5" height="3.6" fill="#ffffff" opacity="0.92"/>
<rect x="376.2" y="15.7" width="3.5" height="0.8" fill="#2a62d8"/>
<rect x="382.3" y="11.1" width="7.9" height="7.7" fill="#3fa51f"/>
<rect x="382.3" y="11.1" width="7.9" height="1.6" fill="#2c8212"/>
<rect x="383.5" y="14.1" width="5.5" height="3.6" fill="#ffffff" opacity="0.92"/>
<rect x="384.5" y="15.7" width="3.5" height="0.8" fill="#3fa51f"/>
<g stroke="#505050" stroke-width="1.3" fill="#505050"><line x1="412.5" y1="6.4" x2="412.5" y2="18.7"/><line x1="410" y1="16.8" x2="423.2" y2="16.8"/><polygon points="412.5,5.2 410.7,8.0 414.3,8.0" stroke="none"/><polygon points="424.2,16.8 421.59999999999997,15.0 421.59999999999997,18.6" stroke="none"/></g>
<polygon points="417,8 421.4,10.7 417,13.5" fill="#35c035" stroke="#159015" stroke-width="0.8"/>
<g stroke="#505050" stroke-width="1.3" fill="#505050"><line x1="440.5" y1="6.4" x2="440.5" y2="18.7"/><line x1="438" y1="16.8" x2="451.2" y2="16.8"/><polygon points="440.5,5.2 438.7,8.0 442.3,8.0" stroke="none"/><polygon points="452.2,16.8 449.59999999999997,15.0 449.59999999999997,18.6" stroke="none"/></g>
<line x1="446.6" y1="5" x2="446.6" y2="15" stroke="#1c62b8" stroke-width="1.2"/>
<path d="M452.2,10.5 H448 M450.4,8.4 L447.8,10.5 L450.4,12.6" stroke="#d03410" stroke-width="1.2" fill="none"/>
<path d="M471.5,3.6 H479.5 L482.8,6.8 V16.6 H471.5 z" fill="#f4f4f4" stroke="#8a8a8a" stroke-width="0.8"/>
<path d="M479.5,3.6 V6.8 H482.8" fill="#dcdcdc" stroke="#8a8a8a" stroke-width="0.7"/>
<path d="M476.5,6 Q474,6 474.4,8.4 V9.6 Q474.4,10.6 473.4,10.8 Q474.4,11 474.4,12 V13.4" fill="none" stroke="#444" stroke-width="0.9"/>
<path d="M479.2,9.2 H483.2 V12.6 H486.7 V16.6 H483.2 V20 H479.2 V16.6 H475.7 V12.6 H479.2 z" fill="url(#plus)" stroke="#0b7a0b" stroke-width="0.7"/>
<polygon points="492.70000000000005,10 498.5,10 495.6,13.2" fill="#000"/>
<polygon points="531.7,10 537.5,10 534.6,13.2" fill="#000"/>
<polygon points="570.6,10 576.4,10 573.5,13.2" fill="#000"/>
<polygon points="876.5,10 882.3,10 879.4,13.2" fill="#000"/>
<circle cx="517" cy="10.6" r="7.9" fill="url(#clk)"/>
<circle cx="517" cy="10.6" r="4.9" fill="#f6f8fb" stroke="#0a3c8c" stroke-width="0.5"/>
<path d="M517,7.2 V10.8 H519.6" fill="none" stroke="#333" stroke-width="1.1"/>
<rect x="548.4" y="4" width="15.4" height="13.6" fill="#ffffff" stroke="#2a6cd0" stroke-width="1.1"/>
<rect x="548.4" y="4" width="15.4" height="2" fill="#5b9ae8"/>
<rect x="549" y="11" width="14.4" height="0.8" fill="#2a6cd0"/>
<path d="M550.6,10 L552.6,9.4 L554.4,8.4 L556.4,9 L558.6,8 L561.6,8.4" fill="none" stroke="#b01c10" stroke-width="1.1"/>
<path d="M550.6,15.2 L553,14.6 L555,15.4 L557.8,13.2 L559.4,14.2 L561.8,15.6" fill="none" stroke="#1f9a1f" stroke-width="1.1"/>
<polygon points="600,3.8 600,15.4 602.8,12.9 605.2,18.1 607,17.3 604.7,12.2 608.3,12" fill="#404040"/>
<g class="ce">
<rect x="632" y="4" width="1" height="15" fill="#444"/>
<rect x="625" y="11" width="15" height="1" fill="#444"/>
<rect x="632" y="11" width="1" height="1" fill="#f0f0f0"/>
<rect x="666" y="5" width="1" height="13" fill="#444"/>
<rect x="689" y="11" width="12" height="1" fill="#444"/>
</g>
<line x1="716.6" y1="18" x2="729" y2="6" stroke="#444" stroke-width="1.1"/>
<g stroke="#444" stroke-width="1" fill="none"><line x1="743" y1="14.4" x2="755.4" y2="5.3"/><line x1="744.8" y1="17.8" x2="757.8" y2="9.1"/><line x1="746.5" y1="10.5" x2="745" y2="17.5"/><line x1="750" y1="8" x2="748.4" y2="15.4"/><line x1="753.4" y1="5.6" x2="751.8" y2="13"/><line x1="755.6" y1="3.4" x2="755" y2="10.6"/></g>
<text x="753.6" y="19.8" style="font-size:6.4px;font-weight:bold;fill:#333">E</text>
<g class="ce" stroke="#444" stroke-width="1" stroke-dasharray="1 1" fill="none"><line x1="772" y1="4.5" x2="785" y2="4.5"/><line x1="772" y1="7.5" x2="785" y2="7.5"/><line x1="772" y1="11.5" x2="785" y2="11.5"/><line x1="772" y1="15.5" x2="780" y2="15.5"/></g>
<text x="781.4" y="19.8" style="font-size:6.4px;font-weight:bold;fill:#333">F</text>
<text x="802.6" y="15.9" style="font-size:12px;font-weight:bold;fill:#4a4a4a">A</text>
<g class="ce" stroke="#444" stroke-width="1" stroke-dasharray="1 1" fill="none"><line x1="829" y1="5.5" x2="841" y2="5.5"/><line x1="829" y1="17.5" x2="841" y2="17.5"/><line x1="829.5" y1="5" x2="829.5" y2="18"/><line x1="840.5" y1="5" x2="840.5" y2="18"/></g>
<text x="830.4" y="15.9" style="font-size:11.5px;font-weight:bold;fill:#4a4a4a">T</text>
<polygon points="859.4,4.8 863,8 859.4,9.8 855.9,8" fill="#404040"/>
<polygon points="866.8,18.3 870.3,15 866.8,13.4 863.2,15" fill="#404040"/>
<path d="M858.4,12 L860.4,14 L866.2,8.6" fill="none" stroke="#404040" stroke-width="1.3"/>
<text class="tf" x="903" y="15">M1</text>
<text class="tf" x="931" y="15">M5</text>
<text class="tf" x="957.2" y="15">M15</text>
<text class="tf" x="985.2" y="15">M30</text>
<text class="tf" x="1016.2" y="15">H1</text>
<text class="tf" x="1043.4" y="15">H4</text>
<text class="tf" x="1072" y="15">D1</text>
<text class="tf" x="1100" y="15">W1</text>
<text class="tf" x="1126" y="15">MN</text>
<line x1="1616.8" y1="11.4" x2="1612.2" y2="15.8" stroke="#2a58c8" stroke-width="2.2" stroke-linecap="round"/>
<circle cx="1619.6" cy="8.4" r="4" fill="#fdfdff" stroke="#2350d0" stroke-width="1.1"/>
<path d="M1639.6,19.6 L1640.4,17.4 A5.8,4.8 0 1 1 1643.4,17.6 z" fill="#e9e9ee" stroke="#a8a8a8" stroke-width="0.8"/>
<circle cx="1650.6" cy="8.4" r="7.9" fill="url(#badge)"/>
<text x="1646.6" y="13" style="font-family:'DejaVu Sans',sans-serif;font-size:12.5px;fill:#fff;stroke:#fff;stroke-width:0.45px">1</text>
</g>
</svg></body></html>
